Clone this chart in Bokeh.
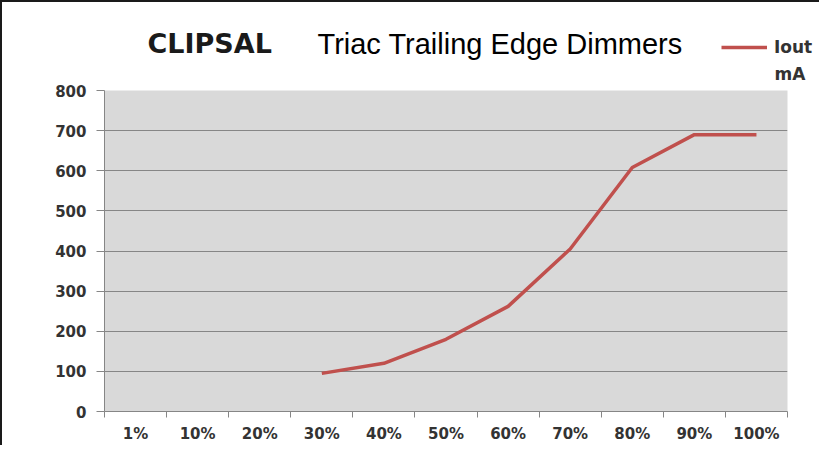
import math
from bokeh.plotting import figure
from bokeh.models import (Range1d, FixedTicker, Label, Legend, LegendItem,
                          ColumnDataSource)
from bokeh.embed import file_html
from bokeh.resources import INLINE

categories = ["1%", "10%", "20%", "30%", "40%", "50%", "60%", "70%", "80%", "90%", "100%"]
iout_ma = [math.nan, math.nan, math.nan, 95, 120, 180, 262, 405, 608, 690, 690]
y_ticks = [0, 100, 200, 300, 400, 500, 600, 700, 800]
series_name = ["Iout", "mA"]
title_brand = "CLIPSAL"
title_text = "Triac Trailing Edge Dimmers"

xs = [i + 0.5 for i in range(len(categories))]
src = ColumnDataSource(dict(x=xs, y=iout_ma))

GRAY = "#868686"
TXT = "#333333"
FONT = "DejaVu Sans"
RED = "#C0504D"
BORDER = "2px solid #1a1a1a"

W = 819
H_HEAD = 84
H_MAIN = 361

# ---------- header (titles + legend) ----------
h = figure(width=W, height=H_HEAD, output_backend="svg", toolbar_location=None,
           x_range=Range1d(0, 1), y_range=Range1d(0, 1),
           min_border=0, min_border_left=0, min_border_right=0,
           min_border_top=0, min_border_bottom=0)
h.styles = {"border-top": BORDER, "border-left": BORDER}
h.axis.visible = False
h.grid.visible = False
h.outline_line_color = None
h.background_fill_color = "white"
h.border_fill_color = "white"

h.add_layout(Label(x=145, y=43, x_units="screen", y_units="screen", text=title_brand,
                   text_font=FONT, text_font_style="bold", text_font_size="27px",
                   text_color="#1a1a1a", text_baseline="middle"))
h.add_layout(Label(x=315, y=43, x_units="screen", y_units="screen", text=title_text,
                   text_font="Liberation Sans", text_font_size="29px",
                   text_color="black", text_baseline="middle"))

# the series itself, drawn outside this header's ranges: it only feeds the legend swatch
legend_line = h.line("x", "y", source=src, line_color=RED, line_width=3.5)
legend = Legend(items=[LegendItem(label=series_name[0], renderers=[legend_line])],
                location=(719, 29), padding=0, margin=0, spacing=0,
                glyph_width=46, glyph_height=20, label_standoff=7,
                label_text_font=FONT, label_text_font_style="bold",
                label_text_font_size="17px", label_text_color=TXT,
                background_fill_alpha=0, border_line_color=None)
h.add_layout(legend)
h.add_layout(Label(x=772, y=13, x_units="screen", y_units="screen", text=series_name[1],
                   text_font=FONT, text_font_style="bold", text_font_size="17px",
                   text_color=TXT, text_baseline="middle"))

# ---------- main chart ----------
p = figure(width=W, height=H_MAIN, output_backend="svg", toolbar_location=None,
           x_range=Range1d(0, len(categories)), y_range=Range1d(0, 800),
           min_border_left=102, min_border_right=34, min_border_top=6,
           min_border_bottom=33)
p.styles = {"border-left": BORDER}
p.background_fill_color = "#D9D9D9"
p.border_fill_color = "white"
p.outline_line_color = None

p.xaxis.ticker = FixedTicker(ticks=xs, minor_ticks=list(range(len(categories) + 1)))
p.xaxis.major_label_overrides = {x: c for x, c in zip(xs, categories)}
p.xaxis.major_tick_line_color = None
p.xaxis.major_tick_out = 0
p.xaxis.major_tick_in = 0
p.xaxis.minor_tick_line_color = GRAY
p.xaxis.minor_tick_out = 6
p.xaxis.minor_tick_in = 0
p.xaxis.axis_line_color = GRAY
p.xaxis.major_label_standoff = 7
p.xaxis.major_label_text_font = FONT
p.xaxis.major_label_text_font_style = "bold"
p.xaxis.major_label_text_font_size = "15px"
p.xaxis.major_label_text_color = TXT

p.yaxis.ticker = FixedTicker(ticks=y_ticks)
p.yaxis.minor_tick_line_color = None
p.yaxis.major_tick_line_color = GRAY
p.yaxis.major_tick_out = 8
p.yaxis.major_tick_in = 0
p.yaxis.axis_line_color = GRAY
p.yaxis.major_label_standoff = 10
p.yaxis.major_label_text_font = FONT
p.yaxis.major_label_text_font_style = "bold"
p.yaxis.major_label_text_font_size = "15px"
p.yaxis.major_label_text_color = TXT

p.xgrid.grid_line_color = None
p.ygrid.ticker = FixedTicker(ticks=y_ticks)
p.ygrid.grid_line_color = GRAY
p.ygrid.grid_line_width = 1.2

p.line("x", "y", source=src, line_color=RED, line_width=3.5, line_join="round")

open("out.html", "w").write(file_html([h, p], INLINE))
